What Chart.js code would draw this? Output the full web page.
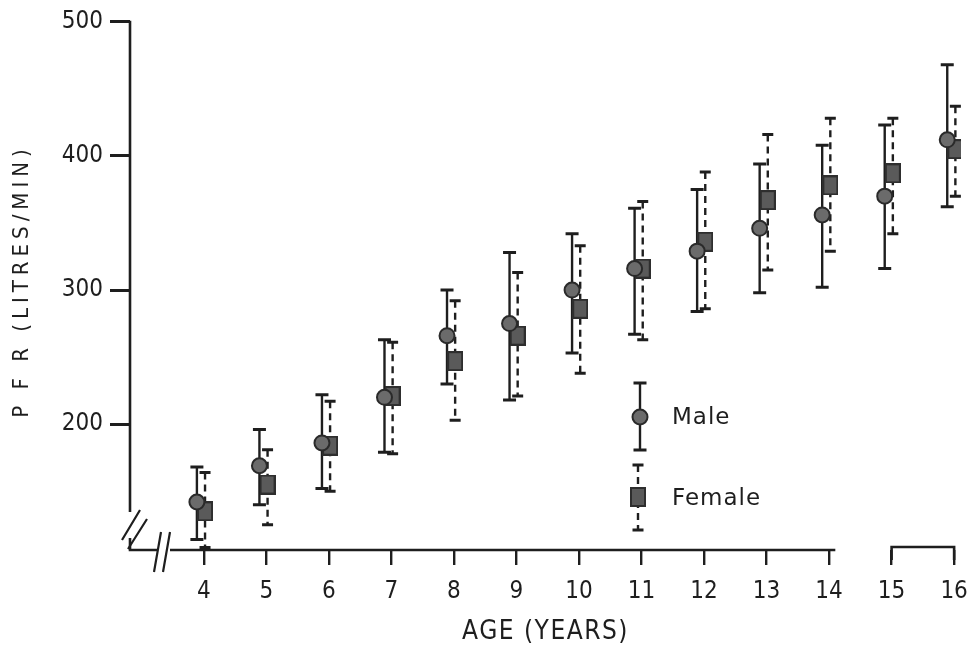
<!DOCTYPE html>
<html>
<head>
<meta charset="utf-8">
<script src="https://cdn.jsdelivr.net/npm/chart.js@4"></script>
<style>
  html, body { margin: 0; padding: 0; background: #ffffff; }
  #wrap { width: 973px; height: 646px; position: relative; }
</style>
</head>
<body>
<div id="wrap"><canvas id="c"></canvas></div>
<script>
// ---- Data ----
const ages = [4, 5, 6, 7, 8, 9, 10, 11, 12, 13, 14, 15, 16];
const maleMean  = [142, 169, 186, 220, 266, 275, 300, 316, 329, 346, 356, 370, 412];
const maleLow   = [114, 140, 152, 179, 230, 218, 253, 267, 284, 298, 302, 316, 362];
const maleHigh  = [168, 196, 222, 263, 300, 328, 342, 361, 375, 394, 408, 423, 468];
const femaleMean = [135, 155, 184, 221, 247, 266, 286, 316, 336, 367, 378, 387, 405];
const femaleLow  = [108, 125, 150, 178, 203, 221, 238, 263, 286, 315, 329, 342, 370];
const femaleHigh = [164, 181, 217, 261, 292, 313, 333, 366, 388, 416, 428, 428, 437];
const yTickValues = [200, 300, 400, 500];
const xTickValues = ages;
const xTitle = 'AGE (YEARS)';
const yTitle = 'P F R (LITRES/MIN)';

// small horizontal offsets so the two series sit side by side (style)
const MALE_DX = -0.11, FEMALE_DX = 0.02;

const INK = '#1e1e1e';
const FONT = "'DejaVu Sans Condensed', 'Liberation Sans Narrow', 'DejaVu Sans', sans-serif";

const maleData = ages.map((a, i) => ({ x: a + MALE_DX, y: maleMean[i], lo: maleLow[i], hi: maleHigh[i] }));
const femaleData = ages.map((a, i) => ({ x: a + FEMALE_DX, y: femaleMean[i], lo: femaleLow[i], hi: femaleHigh[i] }));

// tall square marker for Female
function makeRectMarker(w, h) {
  const c = document.createElement('canvas');
  c.width = w; c.height = h;
  const g = c.getContext('2d');
  g.fillStyle = '#5a5a5a';
  g.fillRect(0, 0, w, h);
  g.strokeStyle = '#2e2e2e';
  g.lineWidth = 2;
  g.strokeRect(1, 1, w - 2, h - 2);
  return c;
}
const femaleMarker = makeRectMarker(16, 20);

function drawBar(ctx, x, yTop, yBot, dashed, capW) {
  ctx.save();
  ctx.strokeStyle = INK;
  ctx.lineWidth = 2.4;
  ctx.setLineDash(dashed ? [7, 5] : []);
  ctx.beginPath(); ctx.moveTo(x, yTop); ctx.lineTo(x, yBot); ctx.stroke();
  ctx.setLineDash([]);
  ctx.lineWidth = 3;
  ctx.beginPath();
  ctx.moveTo(x - capW / 2, yTop); ctx.lineTo(x + capW / 2, yTop);
  ctx.moveTo(x - capW / 2, yBot); ctx.lineTo(x + capW / 2, yBot);
  ctx.stroke();
  ctx.restore();
}

const errorBars = {
  id: 'errorBars',
  beforeDatasetsDraw(chart) {
    const { ctx, scales: { x, y } } = chart;
    chart.data.datasets.forEach((ds) => {
      const dashed = ds.label === 'Female';
      ds.data.forEach((p) => {
        const px = x.getPixelForValue(p.x);
        drawBar(ctx, px, y.getPixelForValue(p.hi), y.getPixelForValue(p.lo), dashed, dashed ? 11 : 13);
      });
    });
  }
};

const axesPlugin = {
  id: 'axesPlugin',
  afterDraw(chart) {
    const { ctx, chartArea: ca, scales: { x, y } } = chart;
    const ax = ca.left, ay = ca.bottom;
    ctx.save();
    ctx.strokeStyle = INK;
    ctx.lineWidth = 2.6;
    ctx.lineCap = 'butt';
    // y axis with break
    const yTop = y.getPixelForValue(500);
    ctx.beginPath();
    ctx.moveTo(ax, yTop - 1); ctx.lineTo(ax, ay - 38);
    ctx.moveTo(ax, ay - 12); ctx.lineTo(ax, ay);
    // x axis with break
    ctx.lineTo(ax + 27, ay);
    ctx.moveTo(ax + 40, ay); ctx.lineTo(x.getPixelForValue(14.1), ay);
    // separate piece for 15-16
    ctx.moveTo(x.getPixelForValue(15), ay + 10); ctx.lineTo(x.getPixelForValue(15), ay - 3);
    ctx.lineTo(x.getPixelForValue(16), ay - 3); ctx.lineTo(x.getPixelForValue(16), ay + 10);
    ctx.stroke();
    // break marks
    ctx.lineWidth = 2.2;
    ctx.beginPath();
    ctx.moveTo(ax - 8, ay - 10); ctx.lineTo(ax + 10, ay - 40);
    ctx.moveTo(ax - 2, ay - 1); ctx.lineTo(ax + 17, ay - 31);
    ctx.moveTo(ax + 24, ay + 22); ctx.lineTo(ax + 31, ay - 18);
    ctx.moveTo(ax + 33, ay + 22); ctx.lineTo(ax + 40, ay - 18);
    ctx.stroke();

    // axis titles
    ctx.fillStyle = INK;
    ctx.textAlign = 'center';
    ctx.textBaseline = 'middle';
    ctx.font = "26px " + FONT;
    ctx.letterSpacing = '1.5px';
    ctx.fillText(xTitle, (ca.left + ca.right) / 2, ay + 82);
    ctx.translate(22, (ca.top + ca.bottom) / 2 - 4);
    ctx.rotate(-Math.PI / 2);
    ctx.letterSpacing = '5px';
    ctx.font = "22px " + FONT;
    ctx.fillText(yTitle, 0, 0);
    ctx.restore();
  }
};

const legendPlugin = {
  id: 'customLegend',
  afterDraw(chart) {
    const { ctx, chartArea: ca } = chart;
    const lx = ca.left + 510;
    ctx.save();
    // Male
    drawBar(ctx, lx, ca.top + 363, ca.top + 430, false, 13);
    ctx.beginPath();
    ctx.arc(lx, ca.top + 397, 7.5, 0, Math.PI * 2);
    ctx.fillStyle = '#6b6b6b'; ctx.fill();
    ctx.lineWidth = 2; ctx.strokeStyle = '#2a2a2a'; ctx.stroke();
    // Female
    drawBar(ctx, lx - 2, ca.top + 445, ca.top + 510, true, 11);
    ctx.drawImage(femaleMarker, lx - 10, ca.top + 467);
    ctx.fillStyle = INK;
    ctx.font = "23px 'DejaVu Sans', sans-serif";
    ctx.letterSpacing = '1px';
    ctx.textBaseline = 'middle';
    ctx.fillText('Male', lx + 32, ca.top + 398);
    ctx.fillText('Female', lx + 32, ca.top + 479);
    ctx.restore();
  }
};

new Chart(document.getElementById('c'), {
  type: 'scatter',
  data: {
    datasets: [
      {
        label: 'Male',
        data: maleData,
        pointStyle: 'circle',
        pointRadius: 7.5,
        pointHoverRadius: 7.5,
        backgroundColor: '#6b6b6b',
        borderColor: '#2a2a2a',
        borderWidth: 2,
        showLine: false
      },
      {
        label: 'Female',
        data: femaleData,
        pointStyle: femaleMarker,
        pointRadius: 10,
        pointHoverRadius: 10,
        backgroundColor: '#5e5e5e',
        borderColor: '#333333',
        borderWidth: 2,
        showLine: false
      }
    ]
  },
  options: {
    responsive: true,
    maintainAspectRatio: false,
    animation: false,
    devicePixelRatio: 1,
    layout: { padding: { left: 0, top: 20, right: 5, bottom: 0 } },
    plugins: { legend: { display: false }, tooltip: { enabled: false } },
    scales: {
      x: {
        type: 'linear',
        min: 2.82,
        max: 16.11,
        afterBuildTicks(scale) { scale.ticks = xTickValues.map(v => ({ value: v })); },
        afterFit(scale) { scale.height = 96; scale.paddingRight = 0; scale.paddingLeft = 0; },
        border: { display: false },
        grid: { display: true, drawOnChartArea: false, drawTicks: true, tickLength: 15, color: INK, lineWidth: 2.4 },
        ticks: { color: INK, font: { family: FONT, size: 24 }, padding: 12, maxRotation: 0, autoSkip: false },
        title: { display: false }
      },
      y: {
        type: 'linear',
        min: 106.2,
        max: 501.3,
        afterBuildTicks(scale) { scale.ticks = yTickValues.map(v => ({ value: v })); },
        afterFit(scale) { scale.width = 130; scale.paddingTop = 0; scale.paddingBottom = 0; },
        border: { display: false },
        grid: { display: true, drawOnChartArea: false, drawTicks: true, tickLength: 20, color: INK, lineWidth: 3 },
        ticks: { color: INK, font: { family: FONT, size: 24 }, padding: 7 },
        title: { display: false }
      }
    }
  },
  plugins: [errorBars, axesPlugin, legendPlugin]
});
</script>
</body>
</html>
